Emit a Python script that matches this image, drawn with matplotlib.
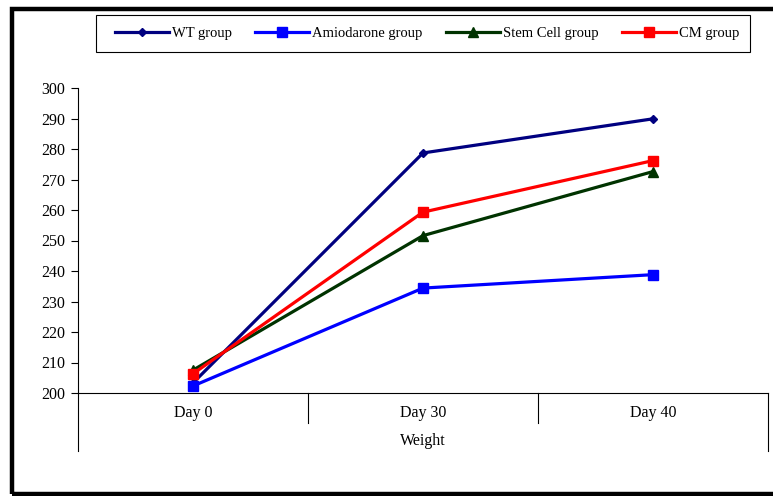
import numpy as np
import matplotlib
matplotlib.use("Agg")
import matplotlib.pyplot as plt
from matplotlib.patches import Rectangle

days = ["Day 0", "Day 30", "Day 40"]
group_label = "Weight"
wt = [203.3, 278.7, 289.9]
amio = [202.3, 234.4, 238.8]
stem = [207.5, 251.6, 272.6]
cm = [206.3, 259.3, 276.2]
yticks = list(range(200, 301, 10))

plt.rcParams['font.family'] = ['Liberation Serif', 'DejaVu Serif']
plt.rcParams['font.size'] = 11.5

fig = plt.figure(figsize=(7.73, 4.96), dpi=100)
W, H = 773.0, 496.0
ax = fig.add_axes([78 / W, 1 - 393 / H, (768 - 78) / W, (393 - 88) / H])

x = np.arange(len(days))
ax.plot(x, wt, color='#000080', lw=2.3, marker='D', ms=4.5, label='WT group')
ax.plot(x, amio, color='#0000ff', lw=2.3, marker='s', ms=6.5, label='Amiodarone group')
ax.plot(x, stem, color='#003300', lw=2.3, marker='^', ms=6.5, label='Stem Cell group')
ax.plot(x, cm, color='#ff0000', lw=2.3, marker='s', ms=6.5, label='CM group')

ax.set_xlim(-0.5, len(days) - 0.5)
ax.set_ylim(200, 300)
ax.set_yticks(yticks)
ax.tick_params(axis='y', direction='out', length=5, width=0.8, pad=4)
ax.set_xticks([])
for s in ['top', 'right']:
    ax.spines[s].set_visible(False)
ax.spines['left'].set_linewidth(0.8)
ax.spines['bottom'].set_linewidth(0.8)

# category separators and labels below the axis
trans = ax.get_xaxis_transform()
ax_h = 393 - 88
for i in range(len(days) + 1):
    xs = i - 0.5
    low = -58 / ax_h if i in (0, len(days)) else -30 / ax_h
    ax.plot([xs, xs], [0, low], color='black', lw=0.8, transform=trans, clip_on=False)
for i, d in enumerate(days):
    ax.text(i, -20 / ax_h, d, transform=trans, ha='center', va='center')
ax.text((len(days) - 1) / 2, -48 / ax_h, group_label, transform=trans, ha='center', va='center')

# legend box drawn separately, entries centred inside
fig.patches.append(Rectangle((96 / W, 1 - 52 / H), (750 - 96) / W, 37 / H, transform=fig.transFigure,
                             fill=False, edgecolor='black', lw=0.8))
fig.legend(loc='center', bbox_to_anchor=(427 / W, 1 - 33.5 / H), ncol=4, frameon=False,
           fontsize=10.5, handlelength=3.7, columnspacing=1.6, handletextpad=0.2)

# outer frame, open on the right
fig.patches.append(Rectangle((12 / W, 2 / H), 1.2, 1 - 11 / H, transform=fig.transFigure,
                             fill=False, edgecolor='black', lw=3.2))

fig.savefig('out.png', dpi=100)
